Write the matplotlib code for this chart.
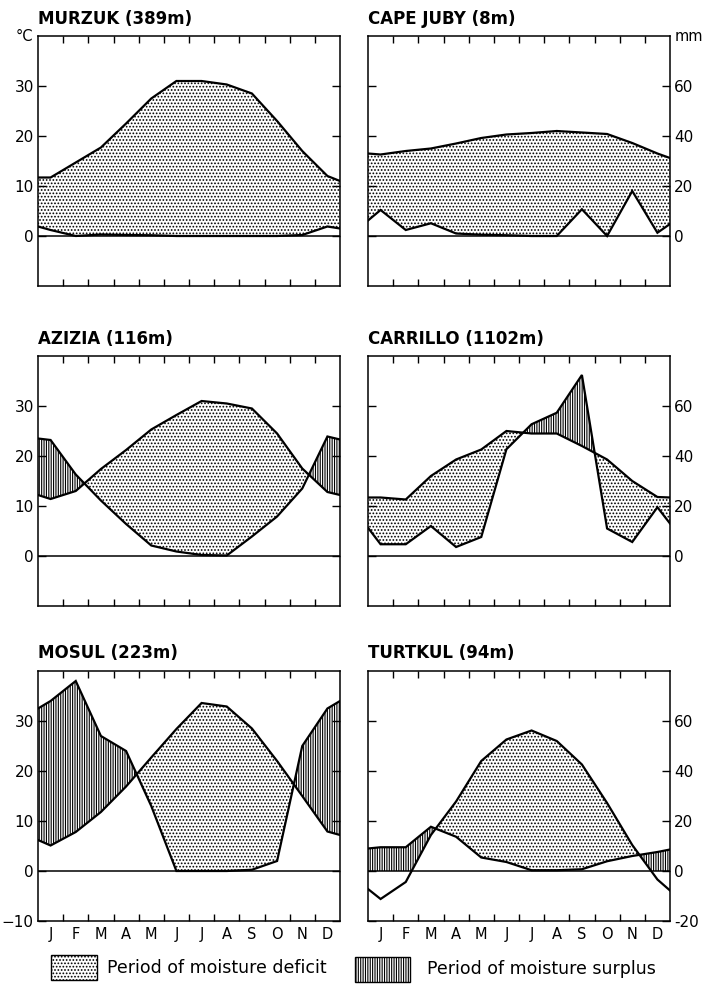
import numpy as np
import matplotlib.pyplot as plt
from matplotlib.patches import Rectangle

plt.rcParams['font.family'] = ['DejaVu Sans']
plt.rcParams['hatch.linewidth'] = 0.8

# ========================================
# DATA: temperature [°C] and precipitation [mm]
# each list: value at left edge, J..D, value at right edge
# ========================================
months = ['J', 'F', 'M', 'A', 'M', 'J', 'J', 'A', 'S', 'O', 'N', 'D']
x_pos = np.r_[0.0, np.arange(12) + 0.5, 12.0]

murzuk_temp = [11.7, 11.7, 14.7, 17.7, 22.5, 27.5, 31.0, 31.0, 30.3, 28.5, 23.0, 17.0, 12.0, 11.0]
murzuk_prec = [3.8, 2.4, 0.0, 0.6, 0.4, 0.3, 0.0, 0.0, 0.0, 0.0, 0.0, 0.4, 3.8, 3.0]

capejuby_temp = [16.5, 16.3, 17.0, 17.5, 18.5, 19.6, 20.3, 20.6, 21.0, 20.7, 20.4, 18.6, 16.5, 15.6]
capejuby_prec = [6.2, 10.4, 2.4, 5.1, 1.0, 0.5, 0.3, 0.0, 0.0, 10.7, 0.0, 18.0, 1.3, 4.8]

azizia_temp = [12.2, 11.4, 13.0, 17.4, 21.2, 25.3, 28.2, 31.0, 30.5, 29.5, 24.5, 17.5, 12.8, 12.2]
azizia_prec = [47.0, 46.4, 32.6, 22.2, 12.8, 4.2, 1.8, 0.4, 0.2, 7.8, 15.8, 27.0, 47.8, 46.6]

carrillo_temp = [11.7, 11.7, 11.3, 16.0, 19.3, 21.3, 25.0, 24.5, 24.5, 22.0, 19.3, 15.0, 11.8, 11.7]
carrillo_prec = [11.3, 4.7, 4.7, 12.0, 3.6, 7.6, 42.7, 52.7, 57.3, 72.4, 11.0, 5.6, 19.5, 13.0]

mosul_temp = [6.2, 5.1, 7.8, 11.8, 16.9, 22.7, 28.4, 33.6, 32.9, 28.5, 22.0, 15.0, 7.9, 7.2]
mosul_prec = [65.0, 68.0, 76.0, 54.0, 48.0, 26.0, 0.0, 0.0, 0.0, 0.5, 4.0, 50.0, 65.0, 68.0]

turtkul_temp = [-3.6, -5.6, -2.2, 7.2, 13.9, 22.0, 26.3, 28.1, 26.0, 21.3, 13.6, 5.2, -1.7, -3.9]
turtkul_prec = [9.0, 9.5, 9.5, 17.7, 13.7, 5.4, 3.6, 0.3, 0.3, 0.7, 3.9, 6.0, 7.6, 8.6]

ticks_c = [0, 10, 20, 30]
ticks_mm = [0, 20, 40, 60]

DOTS = '.....'
LINES = '|||||||'


def panel(ax, title, temp, prec, side, bottom=False, low_label=False):
    t = np.array(temp)
    p = np.array(prec) / 2.0  # 2 mm = 1 °C

    ax.fill_between(x_pos, p, t, where=t >= p, interpolate=True,
                    facecolor='white', edgecolor='black', hatch=DOTS, linewidth=0)
    sur = ax.fill_between(x_pos, t, p, where=p >= t, interpolate=True,
                          facecolor='white', edgecolor='black', hatch=LINES, linewidth=0)
    # no surplus below 0 °C
    sur.set_clip_path(Rectangle((0, 0), 12, 40, transform=ax.transData))

    ax.plot(x_pos, t, color='black', lw=1.6, solid_joinstyle='miter')
    ax.plot(x_pos, p, color='black', lw=1.6, solid_joinstyle='miter')
    ax.axhline(0, color='black', lw=1.1)

    ax.set_xlim(0, 12)
    ax.set_ylim(-10, 40)
    for s in ax.spines.values():
        s.set_linewidth(1.1)

    ax.set_xticks(np.arange(1, 12))
    ax.tick_params(axis='x', which='major', direction='in', top=True, bottom=True,
                   length=5, width=1, labelbottom=False)
    if bottom:
        ax.set_xticks(np.arange(12) + 0.5, months, minor=True)
        ax.tick_params(axis='x', which='minor', length=0, pad=4, labelsize=10.5)

    if side == 'left':
        pos = list(ticks_c)
        labs = [str(v) for v in ticks_c]
        if low_label:
            pos = [-10] + pos
            labs = ['−10'] + labs
        ax.set_yticks(pos, labs)
        ax.tick_params(axis='y', direction='in', left=True, right=True, length=6, width=1,
                       labelleft=True, labelright=False, pad=3, labelsize=11)
    else:
        pos = [v / 2 for v in ticks_mm]
        labs = [str(v) for v in ticks_mm]
        if low_label:
            pos = [-10] + pos
            labs = ['-20'] + labs
        ax.set_yticks(pos, labs)
        ax.tick_params(axis='y', direction='in', left=True, right=True, length=6, width=1,
                       labelleft=False, labelright=True, pad=3, labelsize=11)

    ax.set_title(title, loc='left', fontweight='bold', fontsize=12, pad=9)


fig = plt.figure(figsize=(7.07, 9.85), dpi=100)

W, H = 707, 985
col_x = [38, 368]
row_top = [36, 356, 671]
box_w, box_h = 302, 250


def make_ax(col, row):
    return fig.add_axes([col_x[col] / W, (H - row_top[row] - box_h) / H, box_w / W, box_h / H])


ax = make_ax(0, 0)
panel(ax, 'MURZUK (389m)', murzuk_temp, murzuk_prec, 'left')
ax.text(-0.015, 1.0, '°C', transform=ax.transAxes, ha='right', va='center', fontsize=10.5)

ax = make_ax(1, 0)
panel(ax, 'CAPE JUBY (8m)', capejuby_temp, capejuby_prec, 'right')
ax.text(1.015, 1.0, 'mm', transform=ax.transAxes, ha='left', va='center', fontsize=10.5)

ax = make_ax(0, 1)
panel(ax, 'AZIZIA (116m)', azizia_temp, azizia_prec, 'left')

ax = make_ax(1, 1)
panel(ax, 'CARRILLO (1102m)', carrillo_temp, carrillo_prec, 'right')

ax = make_ax(0, 2)
panel(ax, 'MOSUL (223m)', mosul_temp, mosul_prec, 'left', bottom=True, low_label=True)

ax = make_ax(1, 2)
panel(ax, 'TURTKUL (94m)', turtkul_temp, turtkul_prec, 'right', bottom=True, low_label=True)

# ========================================
# LEGEND
# ========================================
fig.add_artist(Rectangle((51 / W, 5 / H), 46 / W, 25 / H, transform=fig.transFigure,
                         facecolor='white', edgecolor='black', hatch=DOTS, lw=1))
fig.text(107 / W, 17 / H, 'Period of moisture deficit', ha='left', va='center', fontsize=12.5)
fig.add_artist(Rectangle((355 / W, 3 / H), 55 / W, 25 / H, transform=fig.transFigure,
                         facecolor='white', edgecolor='black', hatch=LINES, lw=1))
fig.text(427 / W, 16 / H, 'Period of moisture surplus', ha='left', va='center', fontsize=12.5)

fig.savefig('out.png', dpi=100)
